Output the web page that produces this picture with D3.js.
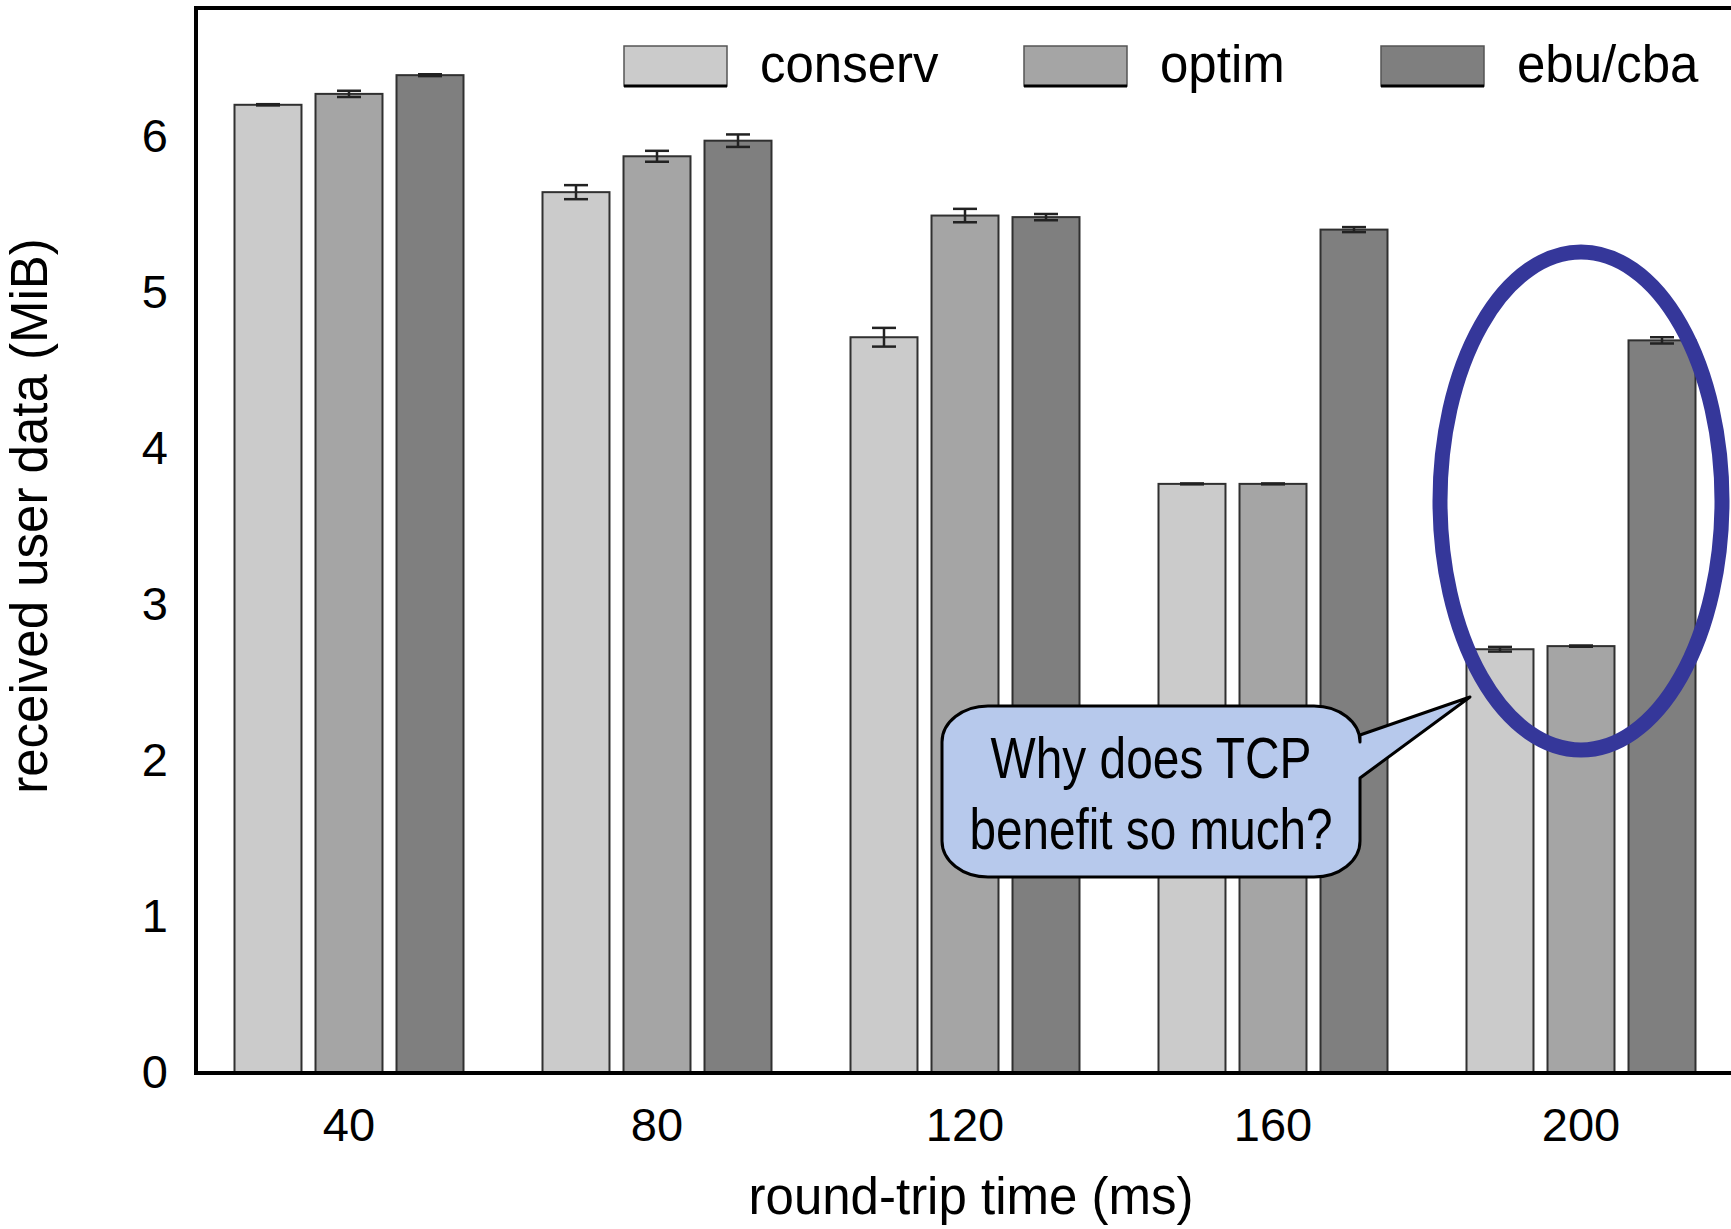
<!DOCTYPE html>
<html>
<head>
<meta charset="utf-8">
<script src="https://cdn.jsdelivr.net/npm/d3@7"></script>
<style>
  html, body { margin: 0; padding: 0; background: #fff; }
  svg { display: block; }
  text { font-family: "Liberation Sans", Arial, Helvetica, sans-serif; fill: #000; }
</style>
</head>
<body>
<script>
// ---- data ----
const categories = ["40", "80", "120", "160", "200"];
const seriesNames = ["conserv", "optim", "ebu/cba"];
const conserv    = [6.20, 5.64, 4.71, 3.77, 2.71];
const optim      = [6.27, 5.87, 5.49, 3.77, 2.73];
const ebucba     = [6.39, 5.97, 5.48, 5.40, 4.69];
const conservErr = [0.004, 0.045, 0.06, 0.003, 0.015];
const optimErr   = [0.02, 0.035, 0.043, 0.003, 0.004];
const ebucbaErr  = [0.006, 0.04, 0.02, 0.016, 0.02];
const yTicks = [0, 1, 2, 3, 4, 5, 6];
const xTitle = "round-trip time (ms)";
const yTitle = "received user data (MiB)";
const calloutLines = ["Why does TCP", "benefit so much?"];
const highlightCategory = "200";

const seriesValues = [conserv, optim, ebucba];
const seriesErrors = [conservErr, optimErr, ebucbaErr];
const colors = ["#cbcbcb", "#a5a5a5", "#7f7f7f"];

const W = 1731, H = 1229;
const svg = d3.select("body").append("svg").attr("width", W).attr("height", H);

const plotLeft = 196, plotTop = 8;
const x0 = d3.scaleBand().domain(categories).range([195, 1735]).padding(0);
const x1 = d3.scaleBand().domain(seriesNames).range([-114.5, 114.5]).paddingInner(0.173).paddingOuter(0);
const y = d3.scaleLinear().domain([0, 6]).range([1072, 136]);

const rows = [];
categories.forEach((c, i) => {
  seriesNames.forEach((s, j) => {
    rows.push({cat: c, ser: s, j, v: seriesValues[j][i], e: seriesErrors[j][i]});
  });
});

// bars
const g = svg.append("g");
g.selectAll("rect.bar").data(rows).enter().append("rect")
  .attr("class", "bar")
  .attr("x", d => x0(d.cat) + x0.bandwidth() / 2 + x1(d.ser))
  .attr("y", d => y(d.v))
  .attr("width", x1.bandwidth())
  .attr("height", d => y(0) - y(d.v))
  .attr("fill", d => colors[d.j])
  .attr("stroke", "#303030")
  .attr("stroke-width", 2);

// error bars
const eg = g.selectAll("g.err").data(rows).enter().append("g")
  .attr("class", "err")
  .attr("stroke", "#222")
  .attr("stroke-width", 2.5);
const cx = d => x0(d.cat) + x0.bandwidth() / 2 + x1(d.ser) + x1.bandwidth() / 2;
const capW = 12;
eg.append("line").attr("x1", cx).attr("x2", cx)
  .attr("y1", d => y(d.v + d.e)).attr("y2", d => y(d.v - d.e));
eg.append("line").attr("x1", d => cx(d) - capW).attr("x2", d => cx(d) + capW)
  .attr("y1", d => y(d.v + d.e)).attr("y2", d => y(d.v + d.e));
eg.append("line").attr("x1", d => cx(d) - capW).attr("x2", d => cx(d) + capW)
  .attr("y1", d => y(d.v - d.e)).attr("y2", d => y(d.v - d.e));

// frame
svg.append("path")
  .attr("d", `M${W},${plotTop} H${plotLeft} V${y(0) + 1} H${W}`)
  .attr("fill", "none").attr("stroke", "#000").attr("stroke-width", 4);

// y axis labels
const yAxis = d3.axisLeft(y).tickValues(yTicks).tickSize(0).tickPadding(28).tickFormat(d3.format("d"));
const yg = svg.append("g").attr("transform", `translate(${plotLeft},0)`).call(yAxis);
yg.select(".domain").remove();
yg.selectAll("text").attr("font-size", 47).attr("font-family", "Liberation Sans, Arial, sans-serif").attr("fill", "#000");

// x axis labels
const xAxis = d3.axisBottom(x0).tickSize(0).tickPadding(0);
const xg = svg.append("g").attr("transform", `translate(0,${y(0)})`).call(xAxis);
xg.select(".domain").remove();
xg.selectAll("text").attr("font-size", 47).attr("font-family", "Liberation Sans, Arial, sans-serif")
  .attr("fill", "#000").attr("dy", null).attr("y", 69);

// axis titles
svg.append("text").attr("x", 971).attr("y", 1214)
  .attr("text-anchor", "middle").attr("font-size", 51).text(xTitle);
svg.append("text").attr("transform", "translate(47,516) rotate(-90)")
  .attr("text-anchor", "middle").attr("font-size", 51).text(yTitle);

// legend
const legendX = [624, 1024, 1381];
const lg = svg.append("g").selectAll("g").data(seriesNames).enter().append("g")
  .attr("transform", (d, i) => `translate(${legendX[i]},46)`);
lg.append("rect").attr("width", 103).attr("height", 40)
  .attr("fill", (d, i) => colors[i]).attr("stroke", "#555").attr("stroke-width", 1.5);
lg.append("line").attr("x1", 0).attr("x2", 103).attr("y1", 40).attr("y2", 40)
  .attr("stroke", "#000").attr("stroke-width", 3);
lg.append("text").attr("x", 136).attr("y", 18).attr("dy", "0.36em")
  .attr("font-size", 51).text(d => d);

// highlight ellipse around the chosen group
const hx = x0(highlightCategory) + x0.bandwidth() / 2;
svg.append("ellipse").attr("cx", hx).attr("cy", 501).attr("rx", 141).attr("ry", 249)
  .attr("fill", "none").attr("stroke", "#35379a").attr("stroke-width", 15);

// callout
const bx0 = 942, bx1 = 1360, by0 = 706, by1 = 877, r = 46, ry = 36;
const tip = [1470, 697];
const p = `M${bx0 + r},${by0} H${bx1 - r} A${r},${ry} 0 0 1 ${bx1},${by0 + ry}
  V735 L${tip[0]},${tip[1]} L${bx1},778
  V${by1 - ry} A${r},${ry} 0 0 1 ${bx1 - r},${by1} H${bx0 + r} A${r},${ry} 0 0 1 ${bx0},${by1 - ry}
  V${by0 + ry} A${r},${ry} 0 0 1 ${bx0 + r},${by0} Z`;
svg.append("path").attr("d", p).attr("fill", "#b7c9ec").attr("stroke", "#000").attr("stroke-width", 3)
  .attr("stroke-linejoin", "round");
const lens = [321, 363];
const bases = [778, 849];
calloutLines.forEach((t, i) => {
  svg.append("text").attr("x", 1151).attr("y", bases[i]).attr("text-anchor", "middle")
    .attr("font-size", 58).attr("textLength", lens[i]).attr("lengthAdjust", "spacingAndGlyphs").text(t);
});
</script>
</body>
</html>
